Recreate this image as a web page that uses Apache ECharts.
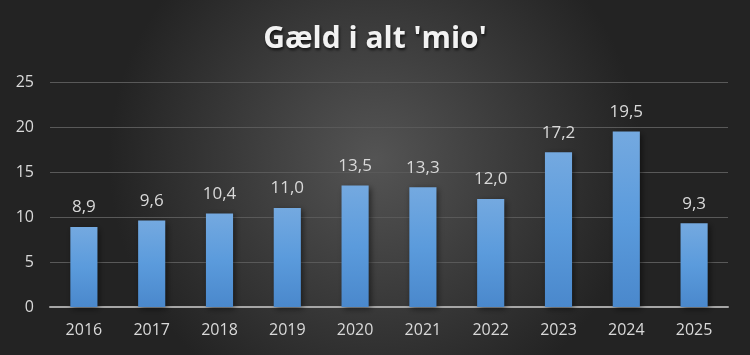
<!DOCTYPE html>
<html>
<head>
<meta charset="utf-8">
<script src="https://cdn.jsdelivr.net/npm/echarts@6/dist/echarts.min.js"></script>
<style>
  html, body { margin: 0; padding: 0; }
  #chart { width: 750px; height: 355px; }
</style>
</head>
<body>
<div id="chart"></div>
<script>
// data
const years = ['2016', '2017', '2018', '2019', '2020', '2021', '2022', '2023', '2024', '2025'];
const debt = [8.9, 9.6, 10.4, 11.0, 13.5, 13.3, 12.0, 17.2, 19.5, 9.3];
const yTicks = [0, 5, 10, 15, 20, 25];

const chart = echarts.init(document.getElementById('chart'));

const fmt = v => v.toFixed(1).replace('.', ',');

const option = {
  backgroundColor: {
    type: 'radial', x: 0.5, y: 0.45, r: 0.75,
    colorStops: [
      { offset: 0, color: '#545454' },
      { offset: 1, color: '#232323' }
    ]
  },
  title: {
    text: "Gæld i alt 'mio'",
    left: 'center',
    top: 19,
    textStyle: {
      color: '#f2f2f2',
      fontFamily: 'Open Sans',
      fontWeight: 'bold',
      fontSize: 30,
      textShadowColor: 'rgba(0,0,0,0.7)',
      textShadowBlur: 3,
      textShadowOffsetX: 1,
      textShadowOffsetY: 2
    }
  },
  grid: {
    left: 50,
    right: 22,
    top: 82,
    bottom: 48,
    containLabel: false
  },
  xAxis: {
    type: 'category',
    data: years,
    axisLine: { lineStyle: { color: '#a6a6a6', width: 2 } },
    axisTick: { show: false },
    axisLabel: {
      color: '#d9d9d9',
      fontFamily: 'Open Sans',
      fontSize: 16,
      margin: 15
    }
  },
  yAxis: {
    type: 'value',
    min: yTicks[0],
    max: yTicks[yTicks.length - 1],
    interval: 5,
    axisLine: { show: false },
    axisTick: { show: false },
    axisLabel: {
      color: '#d9d9d9',
      fontFamily: 'Open Sans',
      fontSize: 16,
      margin: 16
    },
    splitLine: { lineStyle: { color: '#595959', width: 1 } }
  },
  series: [
    {
      type: 'bar',
      data: debt,
      barWidth: '40%',
      itemStyle: {
        color: {
          type: 'linear', x: 0, y: 0, x2: 0, y2: 1,
          colorStops: [
            { offset: 0, color: '#74a9e0' },
            { offset: 0.5, color: '#5b9bdc' },
            { offset: 1, color: '#4a88cc' }
          ]
        },
        shadowColor: 'rgba(0,0,0,0.5)',
        shadowBlur: 6,
        shadowOffsetX: 2,
        shadowOffsetY: 2
      },
      label: {
        show: true,
        position: 'top',
        distance: 11,
        color: '#d9d9d9',
        fontFamily: 'Open Sans',
        fontSize: 17,
        formatter: p => fmt(p.value)
      }
    }
  ]
};

chart.setOption(option);
</script>
</body>
</html>
